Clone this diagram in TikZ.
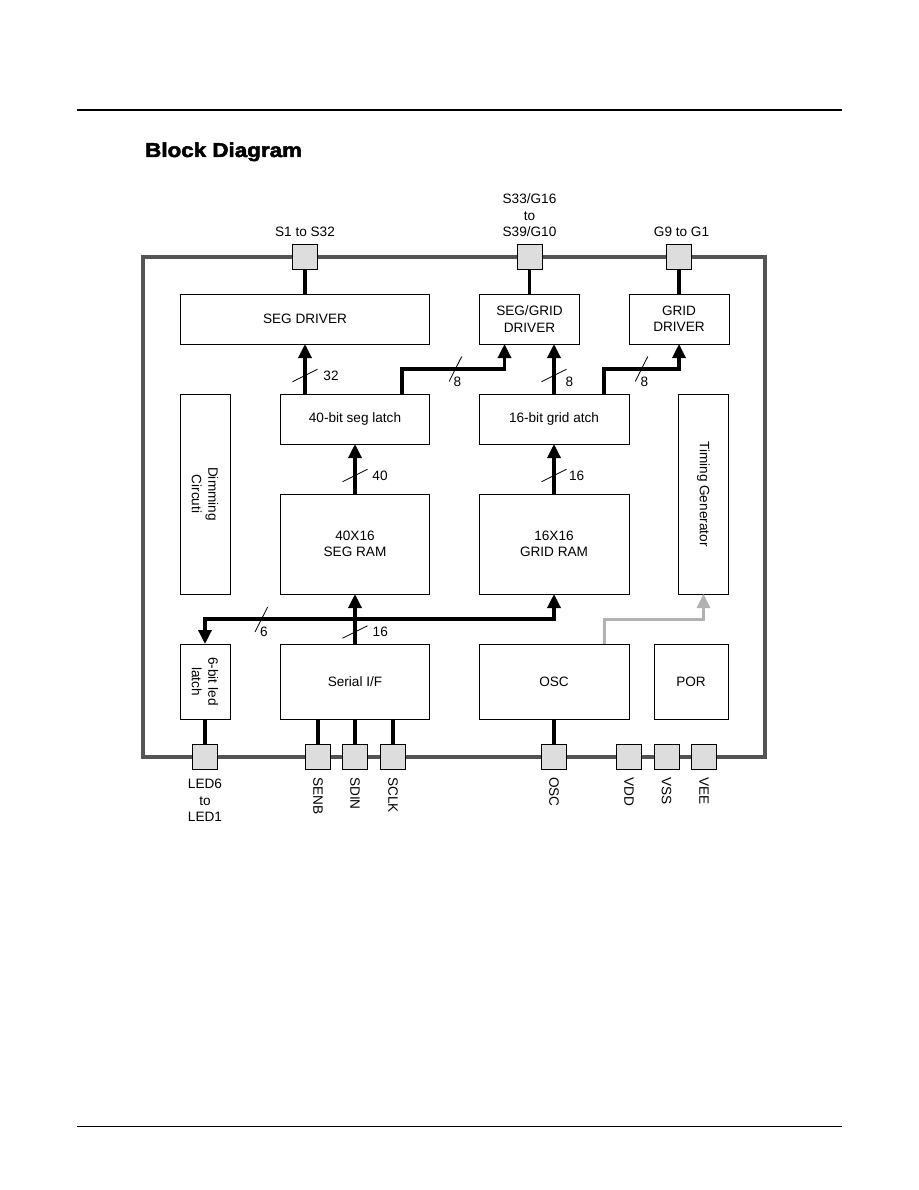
\documentclass[tikz,border=0pt]{standalone}
\usepackage{fontspec}
\setmainfont{Liberation Sans}
\newfontfamily\titlefont[FakeStretch=1.12,FakeBold=2.5]{Liberation Sans}
\usepackage{tikz}
\usetikzlibrary{positioning}
\usetikzlibrary{calc}
\usetikzlibrary{arrows.meta}

\tikzset{
    vslash/.pic={\draw[line width=0.8pt] (-12.5,6.2) -- (12.5,-6.2);},
    hslash/.pic={\draw[line width=0.8pt] (-6.3,12.5) -- (6.3,-12.5);}
}

\begin{document}
\begin{tikzpicture}[x=1pt, y=-1pt,
    font=\fontsize{13.6}{16.5}\selectfont,
    blk/.style={draw, line width=0.9pt, inner sep=0pt, outer sep=0pt, align=center},
    pad/.style={draw, line width=0.8pt, fill=gray!27, minimum size=25pt, inner sep=0pt, outer sep=0pt},
    wire/.style={line width=3.3pt},
    bus/.style={line width=3.3pt, -{Triangle[length=14pt,width=13pt]}},
    clk/.style={line width=3pt, draw=black!30, -{Triangle[length=14pt,width=13pt, fill=black!30]}},
    lbl/.style={inner sep=0pt, align=center}]

    \useasboundingbox (0,0) rectangle (918,1190);

    % page rules and title
    \draw[line width=1.1pt] (77,110) -- (842,110);
    \draw[line width=1pt] (77,1126) -- (842,1126);
    \node[anchor=base west, inner sep=0pt, font=\titlefont\bfseries\fontsize{20}{22}\selectfont] (title) at (145,157) {Block Diagram};

    % chip outline
    \draw[line width=3.5pt, draw=black!67] (143,257) rectangle (765,757);

    % blocks
    \node[blk, minimum width=249pt, minimum height=50pt] (segdrv) at (305,319) {SEG DRIVER};
    \node[blk, minimum width=100pt, minimum height=50pt] (sgdrv) at (529.5,319) {SEG/GRID\\DRIVER};
    \node[blk, minimum width=100pt, minimum height=50pt] (grddrv) at (679,319) {GRID\\DRIVER};

    \node[blk, minimum width=149pt, minimum height=50pt] (seglatch) at (355,419) {40-bit seg latch};
    \node[blk, minimum width=149pt, minimum height=100pt, below=50pt of seglatch] (segram) {40X16\\SEG RAM};
    \node[blk, minimum width=150pt, minimum height=50pt] (grdlatch) at (554,419) {16-bit grid atch};
    \node[blk, minimum width=150pt, minimum height=100pt, below=50pt of grdlatch] (grdram) {16X16\\GRID RAM};

    \node[blk, rotate=-90, minimum width=200pt, minimum height=50pt] (dim) at (205,494) {Dimming\\Circuti};
    \node[blk, rotate=-90, minimum width=200pt, minimum height=50pt] (timing) at (703.5,494) {Timing Generator};

    \node[blk, rotate=-90, minimum width=75pt, minimum height=50pt] (ledlatch) at (205,681.5) {6-bit led\\latch};
    \node[blk, minimum width=149pt, minimum height=75pt] (serial) at (355,681.5) {Serial I/F};
    \node[blk, minimum width=150pt, minimum height=75pt] (osc) at (554,681.5) {OSC};
    \node[blk, minimum width=74pt, minimum height=75pt] (por) at (691,681.5) {POR};

    % pads
    \node[pad] (pS) at (305,257) {};
    \node[pad] (pSG) at (529.5,257) {};
    \node[pad] (pG) at (679,257) {};
    \node[pad] (pLED) at (205,757) {};
    \node[pad] (pSENB) at (318,757) {};
    \node[pad] (pSDIN) at (355,757) {};
    \node[pad] (pSCLK) at (393,757) {};
    \node[pad] (pOSC) at (554,757) {};
    \node[pad] (pVDD) at (629,757) {};
    \node[pad] (pVSS) at (666.5,757) {};
    \node[pad] (pVEE) at (704,757) {};

    % pad names
    \node[lbl, above=7.5pt of pS] {S1 to S32};
    \node[lbl, above=7.5pt of pSG] {S33/G16\\to\\S39/G10};
    \node[lbl, above=7.5pt of pG, xshift=2.5pt] {G9 to G1};
    \node[lbl, below=9.5pt of pLED] {LED6\\to\\LED1};
    \node[lbl, rotate=-90, anchor=west] at ([yshift=-7.5pt]pSENB.south) {SENB};
    \node[lbl, rotate=-90, anchor=west] at ([yshift=-7.5pt]pSDIN.south) {SDIN};
    \node[lbl, rotate=-90, anchor=west] at ([yshift=-7.5pt]pSCLK.south) {SCLK};
    \node[lbl, rotate=-90, anchor=west] at ([yshift=-7.5pt]pOSC.south) {OSC};
    \node[lbl, rotate=-90, anchor=west] at ([yshift=-7.5pt]pVDD.south) {VDD};
    \node[lbl, rotate=-90, anchor=west] at ([yshift=-7.5pt]pVSS.south) {VSS};
    \node[lbl, rotate=-90, anchor=west] at ([yshift=-7.5pt]pVEE.south) {VEE};

    % pad wires
    \draw[wire] (pS) -- (segdrv);
    \draw[wire] (pSG) -- (sgdrv);
    \draw[wire] (pG) -- (grddrv);
    \draw[wire] (ledlatch.east) -- (pLED);
    \draw[wire] (pSENB.north |- serial.south) -- (pSENB);
    \draw[wire] (serial.south) -- (pSDIN);
    \draw[wire] (pSCLK.north |- serial.south) -- (pSCLK);
    \draw[wire] (osc) -- (pOSC);

    % buses
    \draw[bus] (seglatch.north -| segdrv.south) -- (segdrv.south);
    \draw[bus] ([xshift=47pt]seglatch.north) |- ([xshift=-25pt,yshift=-25pt]sgdrv.south) -- ([xshift=-25pt]sgdrv.south);
    \draw[bus] (grdlatch.north) -- (grdlatch.north |- sgdrv.south);
    \draw[bus] ([xshift=50pt]grdlatch.north) |- ([yshift=-25pt]grddrv.south) -- (grddrv.south);
    \draw[bus] (segram) -- (seglatch);
    \draw[bus] (grdram) -- (grdlatch);
    \draw[bus] (serial) -- (segram);
    \coordinate (j) at ($(serial.north)!0.5!(segram.south)$);
    \draw[bus] (j) -| (grdram.south);
    \draw[bus] (j) -| (ledlatch.west);
    \draw[clk] ([xshift=50pt]osc.north) |- (j -| timing.east) -- (timing.east);

    % bus widths
    \pic at (305,375.5) {vslash};
    \node[lbl] at (331,376) {32};
    \pic at (455.4,369) {hslash};
    \node[lbl] at (457.5,382) {8};
    \pic at (554,375.5) {vslash};
    \node[lbl] at (569.3,382) {8};
    \pic at (641.5,369) {hslash};
    \node[lbl] at (644.5,382) {8};
    \pic at (355,475.5) {vslash};
    \node[lbl] at (380,476) {40};
    \pic at (554,475.5) {vslash};
    \node[lbl] at (576.7,476) {16};
    \pic at (355,632) {vslash};
    \node[lbl] at (380.3,632) {16};
    \pic at (261.3,619.5) {hslash};
    \node[lbl] at (264,632) {6};
\end{tikzpicture}
\end{document}
